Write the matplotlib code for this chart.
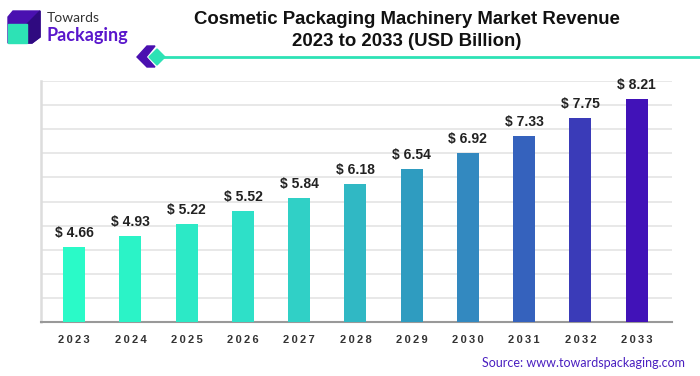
import numpy as np
import matplotlib.pyplot as plt
from matplotlib.patches import Polygon

# chart data
years = ['2023', '2024', '2025', '2026', '2027', '2028', '2029', '2030', '2031', '2032', '2033']
revenue = [4.66, 4.93, 5.22, 5.52, 5.84, 6.18, 6.54, 6.92, 7.33, 7.75, 8.21]

# bar colours, teal -> purple
bar_colors = ['#2afac8', '#2bf3c7', '#2ce9c6', '#2ee0c8', '#30d0c6', '#30b8c4',
              '#2f9cc0', '#3389c0', '#3562bd', '#3a3bb8', '#4112b8']

plt.rcParams['font.family'] = ['Liberation Sans', 'DejaVu Sans']

fig = plt.figure(figsize=(7, 3.76), dpi=100)
fig.patch.set_facecolor('white')

ax = fig.add_axes([41 / 700, 1 - 322 / 376, (672 - 41) / 700, (322 - 81) / 376])
x = np.arange(len(years))
bars = ax.bar(x, revenue, width=0.39, color=bar_colors, zorder=3)

ymin, ymax = 2.85, 8.65
ax.set_ylim(ymin, ymax)
ax.set_xlim(-0.59, len(years) - 1 + 0.63)
ax.set_yticks(np.linspace(ymin, ymax, 11))
ax.yaxis.grid(True, color='#e6e6e6', linewidth=1.3, zorder=0)
ax.tick_params(axis='y', left=False, labelleft=False)
ax.tick_params(axis='x', bottom=False, pad=6)
ax.set_xticks(x)
ax.set_xticklabels(['\u2009'.join(y) for y in years], fontsize=8, fontweight='bold', color='#333333')

for s in ['top', 'right']:
    ax.spines[s].set_visible(False)
ax.spines['left'].set_color('#dddddd')
ax.spines['left'].set_linewidth(1.8)
ax.spines['bottom'].set_color('#999999')
ax.spines['bottom'].set_linewidth(1.5)

for xi, v in zip(x, revenue):
    ax.annotate(f'$ {v:.2f}', (xi, v), xytext=(0, 5), textcoords='offset points',
                ha='center', va='bottom', fontsize=10, fontweight='bold', color='#222222')

# title
fig.text(407 / 700, 1 - 20 / 376, 'Cosmetic Packaging Machinery Market Revenue',
         ha='center', va='center', fontsize=13.4, fontweight='bold', color='#111111')
fig.text(407 / 700, 1 - 42 / 376, '2023 to 2033 (USD Billion)',
         ha='center', va='center', fontsize=13.4, fontweight='bold', color='#111111')

# decorations in pixel space
deco = fig.add_axes([0, 0, 1, 1], zorder=-1)
deco.set_xlim(0, 700)
deco.set_ylim(376, 0)
deco.axis('off')

# logo cube
deco.add_patch(Polygon([(8, 17), (13, 11), (40, 11), (40, 37), (32, 43), (8, 43)],
                       closed=True, color='#4a10b0'))
deco.add_patch(Polygon([(27, 24), (40, 11), (40, 37), (32, 43), (27, 43)],
                       closed=True, color='#2f0a80'))
deco.add_patch(Polygon([(8, 24), (27, 24), (27, 43), (8, 43)], closed=True, color='#2de2b5'))
deco.text(47, 18, 'Towards', fontsize=10, color='#333333', va='center', ha='left',
          family=['Lato', 'DejaVu Sans'])
deco.text(46, 36, 'Packaging', fontsize=13, fontweight='bold', color='#5a17cc', va='center',
          ha='left', family=['Lato', 'DejaVu Sans'])

# line with chevron
deco.plot([160, 700], [57, 57], color='#2de2b5', linewidth=2, solid_capstyle='butt')
deco.add_patch(Polygon([(137, 57), (147, 46), (155, 46), (146, 57), (155, 67), (147, 67)],
                       closed=True, color='#4a10b0'))
deco.add_patch(Polygon([(157, 49), (165, 57), (157, 65), (149, 57)], closed=True, color='#2de2b5'))

# source
deco.text(685, 363, 'Source: www.towardspackaging.com', fontsize=9, color='#4a1fc0',
          ha='right', va='center', family=['Lato', 'DejaVu Sans'])

fig.savefig('out.png', dpi=100, facecolor='white')
